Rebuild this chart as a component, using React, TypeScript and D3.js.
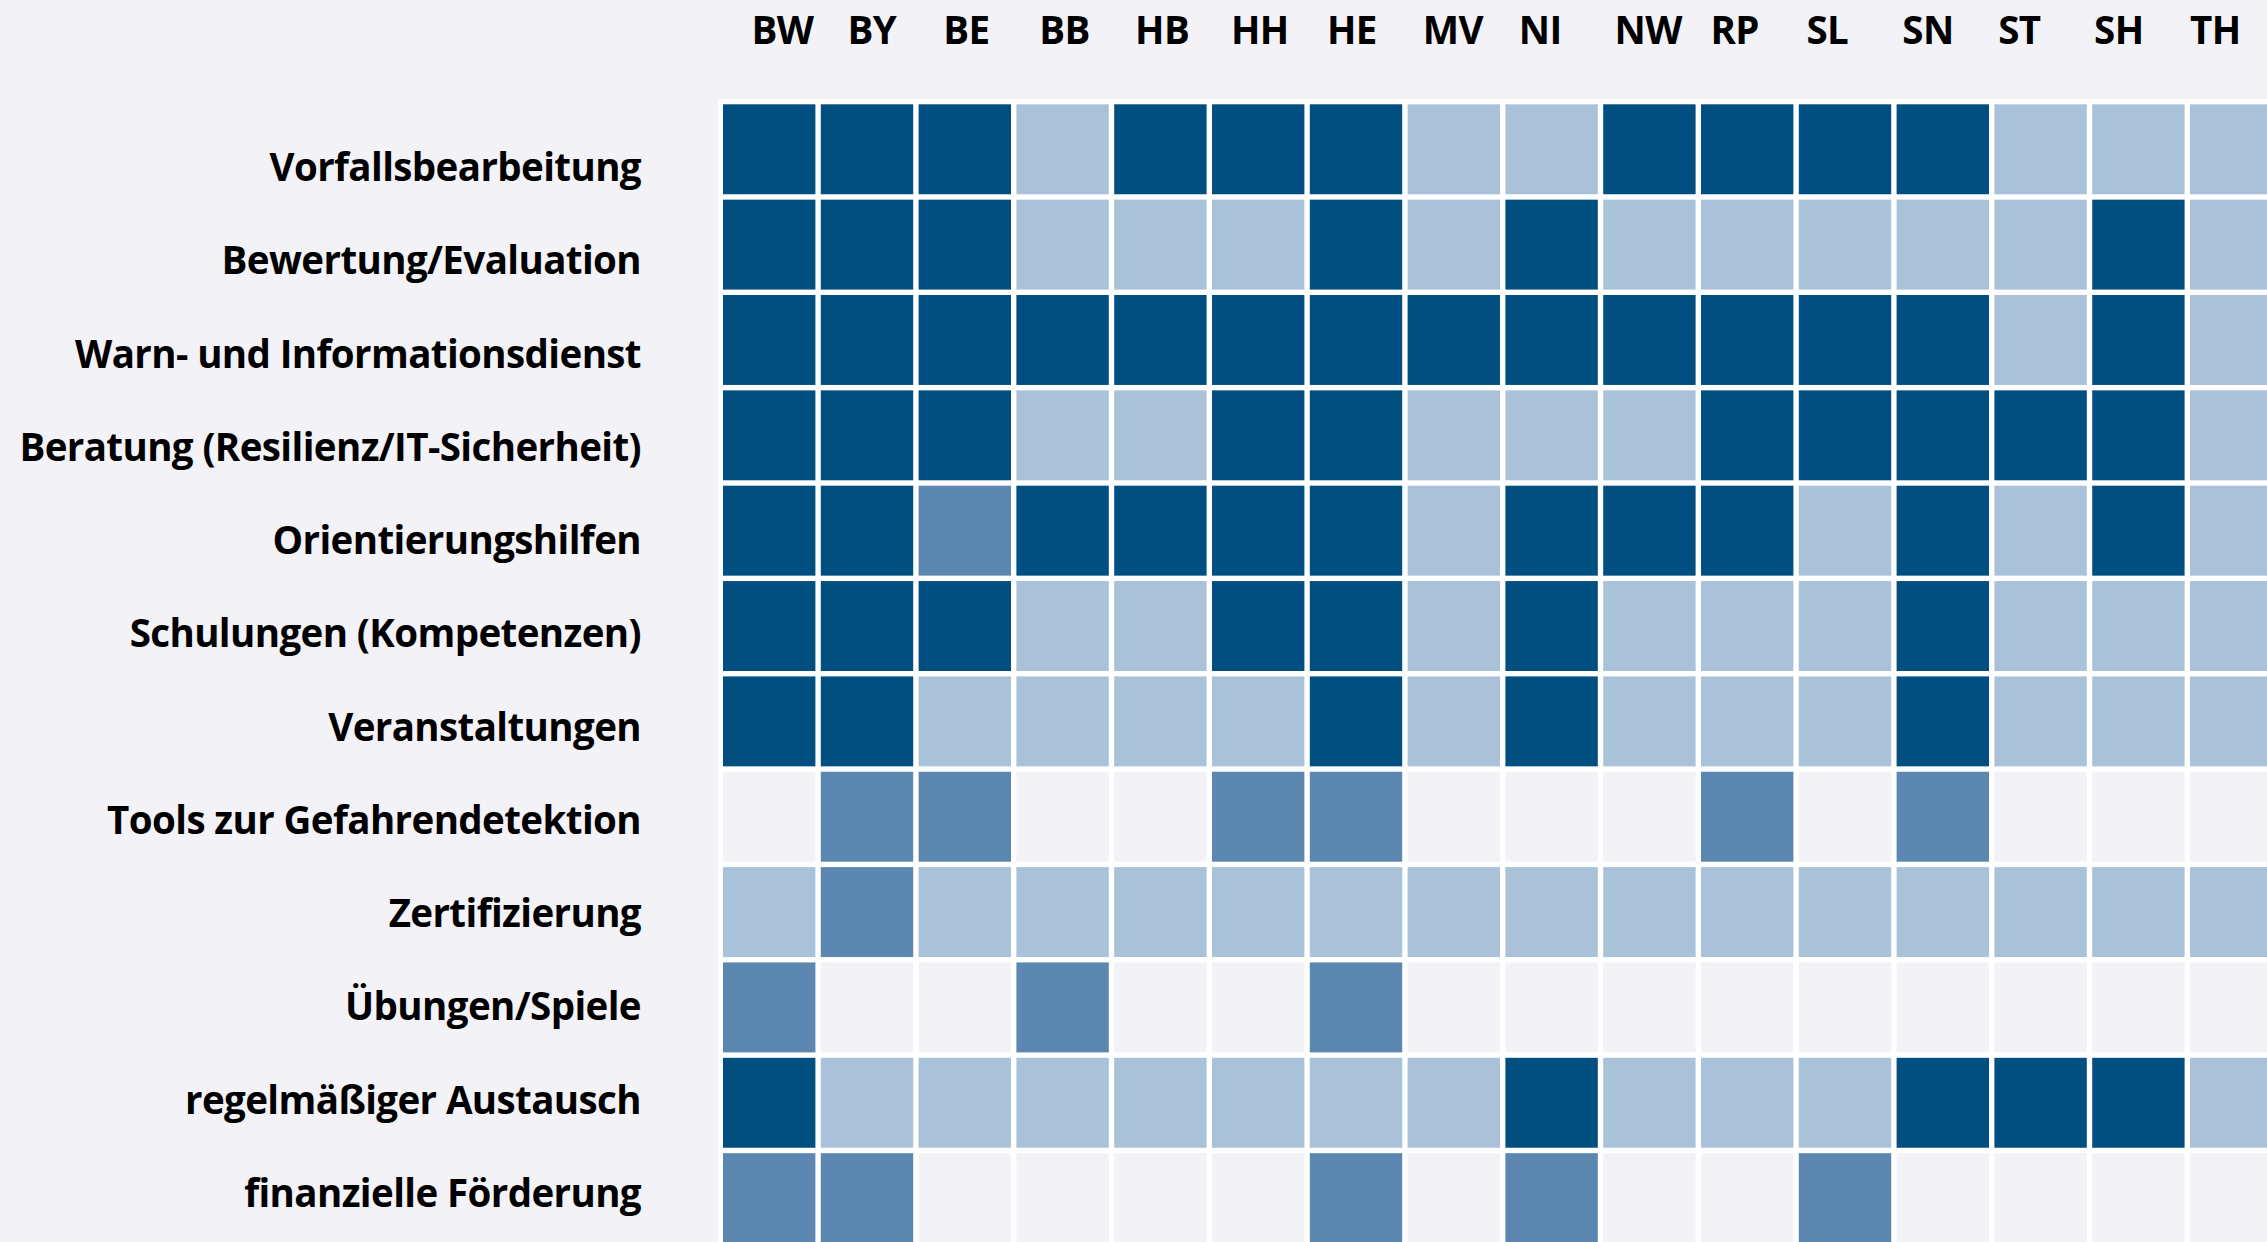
import React, { useEffect } from "react";
import * as d3 from "d3";

const states = ["BW", "BY", "BE", "BB", "HB", "HH", "HE", "MV", "NI", "NW", "RP", "SL", "SN", "ST", "SH", "TH"];

const activities = [
  "Vorfallsbearbeitung",
  "Bewertung/Evaluation",
  "Warn- und Informationsdienst",
  "Beratung (Resilienz/IT-Sicherheit)",
  "Orientierungshilfen",
  "Schulungen (Kompetenzen)",
  "Veranstaltungen",
  "Tools zur Gefahrendetektion",
  "Zertifizierung",
  "Übungen/Spiele",
  "regelmäßiger Austausch",
  "finanzielle Förderung",
];

// 0 = none, 1 = light, 2 = medium, 3 = dark
const vorfall = [3, 3, 3, 1, 3, 3, 3, 1, 1, 3, 3, 3, 3, 1, 1, 1];
const bewertung = [3, 3, 3, 1, 1, 1, 3, 1, 3, 1, 1, 1, 1, 1, 3, 1];
const warn = [3, 3, 3, 3, 3, 3, 3, 3, 3, 3, 3, 3, 3, 1, 3, 1];
const beratung = [3, 3, 3, 1, 1, 3, 3, 1, 1, 1, 3, 3, 3, 3, 3, 1];
const orientierung = [3, 3, 2, 3, 3, 3, 3, 1, 3, 3, 3, 1, 3, 1, 3, 1];
const schulungen = [3, 3, 3, 1, 1, 3, 3, 1, 3, 1, 1, 1, 3, 1, 1, 1];
const veranstaltungen = [3, 3, 1, 1, 1, 1, 3, 1, 3, 1, 1, 1, 3, 1, 1, 1];
const tools = [0, 2, 2, 0, 0, 2, 2, 0, 0, 0, 2, 0, 2, 0, 0, 0];
const zertifizierung = [1, 2, 1, 1, 1, 1, 1, 1, 1, 1, 1, 1, 1, 1, 1, 1];
const uebungen = [2, 0, 0, 2, 0, 0, 2, 0, 0, 0, 0, 0, 0, 0, 0, 0];
const austausch = [3, 1, 1, 1, 1, 1, 1, 1, 3, 1, 1, 1, 3, 3, 3, 1];
const foerderung = [2, 2, 0, 0, 0, 0, 2, 0, 2, 0, 0, 2, 0, 0, 0, 0];

const levels = [vorfall, bewertung, warn, beratung, orientierung, schulungen, veranstaltungen, tools, zertifizierung, uebungen, austausch, foerderung];

const levelColors = ["#f2f2f7", "#a9c2da", "#5c87b0", "#004f80"];

const W = 2267;
const H = 1242;
const FONT = "'Open Sans', 'Noto Sans', sans-serif";

export default function App() {
  useEffect(() => {
    document.body.style.margin = "0";
    document.body.style.background = "#f2f2f7";
  }, []);

  const x = d3.scaleBand<string>().domain(states).range([720.3, 720.3 + 16 * 97.8]);
  const y = d3.scaleBand<string>().domain(activities).range([101.6, 101.6 + 12 * 95.35]);
  const xLab = d3.scalePoint<string>().domain(states).range([751.5, 751.5 + 15 * 95.9]);
  const yLab = d3.scalePoint<string>().domain(activities).range([181, 181 + 11 * 93.25]);
  const color = d3.scaleOrdinal<number, string>().domain([0, 1, 2, 3]).range(levelColors);

  const gap = 2.7;

  const cells: { r: string; c: string; v: number }[] = [];
  activities.forEach((r, i) => states.forEach((c, j) => cells.push({ r, c, v: levels[i][j] })));

  return (
    <svg width={W} height={H} style={{ display: "block", background: "#f2f2f7" }}>
      <rect x={718} y={99} width={W - 718} height={H - 99} fill="#ffffff" />
      {cells.map((d, k) => (
        <rect
          key={k}
          x={(x(d.c) as number) + gap}
          y={(y(d.r) as number) + gap}
          width={x.bandwidth() - 2 * gap}
          height={y.bandwidth() - 2 * gap}
          fill={color(d.v)}
        />
      ))}
      {states.map((s) => (
        <text key={s} x={xLab(s)} y={44} fontFamily={FONT} fontWeight={700} fontSize={38.5} letterSpacing={-0.6} fill="#000" textAnchor="start">
          {s}
        </text>
      ))}
      {activities.map((a) => (
        <text key={a} x={641} y={yLab(a)} fontFamily={FONT} fontWeight={700} fontSize={38.5} letterSpacing={-0.6} fill="#000" textAnchor="end">
          {a}
        </text>
      ))}
    </svg>
  );
}
